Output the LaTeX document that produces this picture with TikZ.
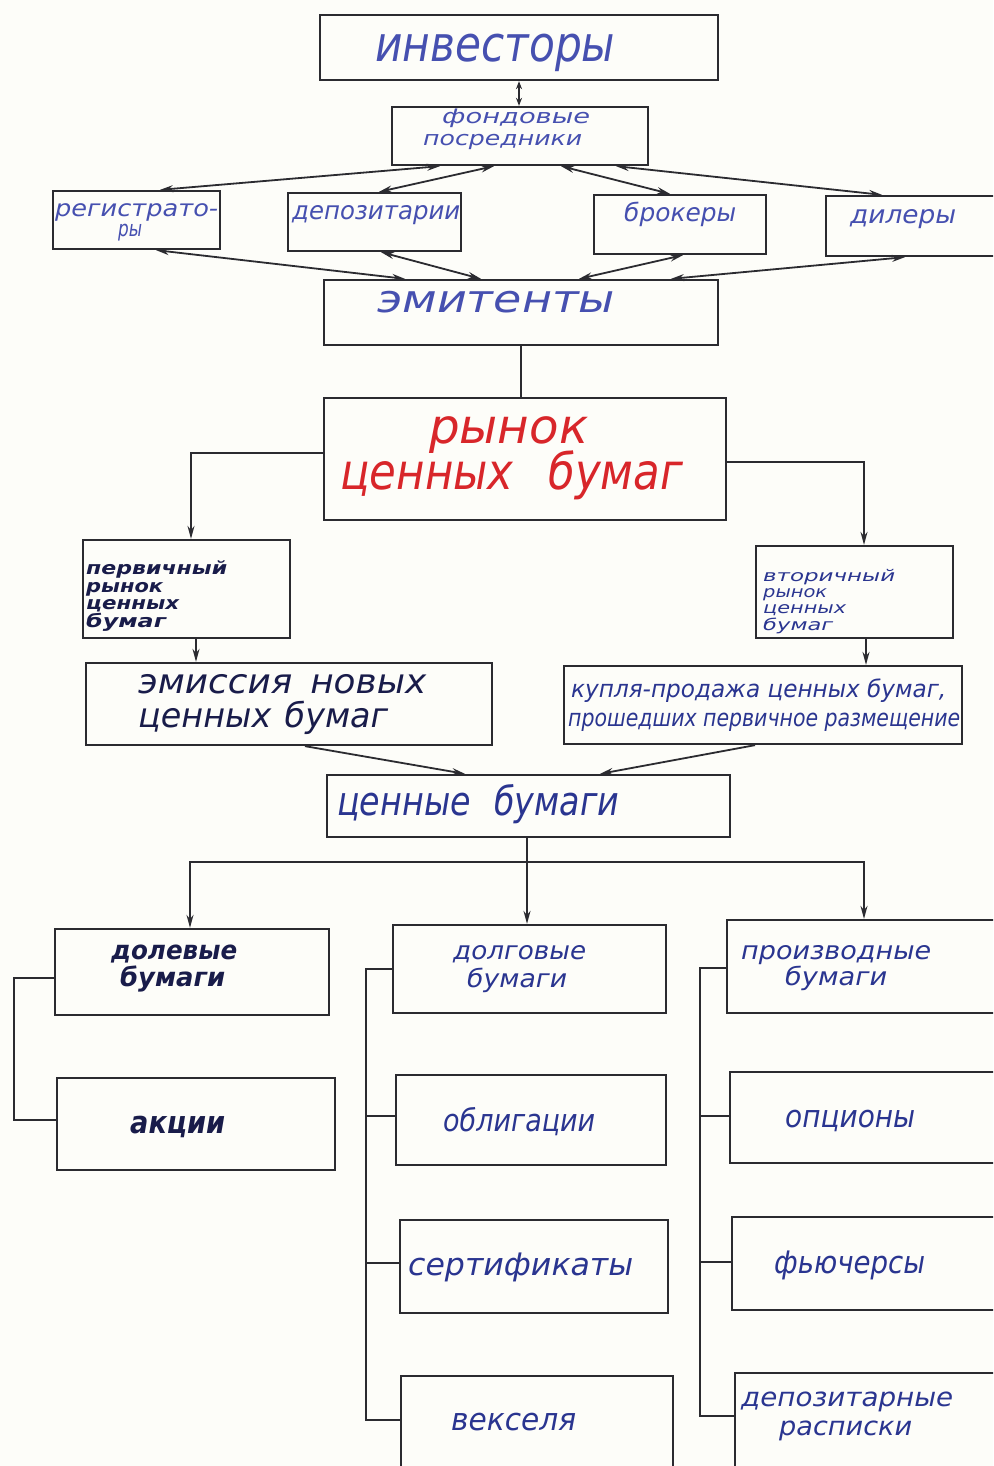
\documentclass[tikz,border=0pt]{standalone}
\usepackage{fontspec}
\setmainfont{DejaVu Sans}
\usetikzlibrary{arrows.meta}

\definecolor{inkblue}{HTML}{4650B0}
\definecolor{inkdeep}{HTML}{2A3590}
\definecolor{inknavy}{HTML}{191C4A}
\definecolor{inkred}{HTML}{D8262A}
\definecolor{linegray}{HTML}{2B2B30}
\definecolor{paper}{HTML}{FDFDF9}

% box from its left, top, right and bottom edges
\newcommand\bx[5]{\node[box, minimum width={#4-#2}, minimum height={#5-#3}] (#1) at ({(#2+#4)/2},{(#3+#5)/2}) {};}
% one line of lettering: [style]{name}{x,baseline}{font size}{width}{text}
\newcommand\lab[6][]{\node[lbl,#1] (#2) at (#3) {\fontsize{#4}{#4}\selectfont\resizebox{#5pt}{\height}{#6}};}

\begin{document}
\begin{tikzpicture}[x=1pt,y=-1pt,
  box/.style={draw=linegray, line width=2.3pt, inner sep=0pt, rectangle},
  lbl/.style={anchor=base west, inner sep=0pt, font=\itshape, text=inkblue},
  deep/.style={text=inkdeep},
  dark/.style={text=inknavy, font=\bfseries\itshape},
  redtxt/.style={text=inkred},
  conn/.style={draw=linegray, line width=1.8pt},
  arr/.style={conn, -{Stealth[length=13pt,width=7pt]}},
  darr/.style={conn, {Stealth[length=13pt,width=7pt]}-{Stealth[length=13pt,width=7pt]}},
  sdarr/.style={conn, {Stealth[length=8pt,width=6pt]}-{Stealth[length=8pt,width=6pt]}}]

\useasboundingbox (0,0) rectangle (993,1466);
\fill[paper] (0,0) rectangle (993,1466);
\clip (0,0) rectangle (993,1466);

% ---- participants ----
\bx{inv}{320}{15}{718}{80}
\bx{fond}{392}{107}{648}{165}
\bx{reg}{53}{191}{220}{249}
\bx{dep}{288}{193}{461}{251}
\bx{brok}{594}{195}{766}{254}
\bx{dil}{826}{196}{1003}{256}
\bx{em}{324}{280}{718}{345}

% ---- market ----
\bx{market}{324}{398}{726}{520}
\bx{prim}{83}{540}{290}{638}
\bx{sec}{756}{546}{953}{638}
\bx{emis}{86}{663}{492}{745}
\bx{trade}{564}{666}{962}{744}
\bx{secs}{327}{775}{730}{837}

% ---- kinds of securities ----
\bx{dol}{55}{929}{329}{1015}
\bx{akc}{57}{1078}{335}{1170}
\bx{debt}{393}{925}{666}{1013}
\bx{obl}{396}{1075}{666}{1165}
\bx{cert}{400}{1220}{668}{1313}
\bx{veks}{401}{1376}{673}{1475}
\bx{deriv}{727}{920}{1003}{1013}
\bx{opt}{730}{1072}{1003}{1163}
\bx{fut}{732}{1217}{1003}{1310}
\bx{depr}{735}{1373}{1003}{1475}

% ---- lettering ----
\lab{t-inv}{375,62}{49}{240}{инвесторы}
\lab{t-fond1}{442,124}{20}{148}{фондовые}
\lab{t-fond2}{423,146}{20}{159}{посредники}
\lab{t-reg1}{55,216}{23}{163}{регистрато-}
\lab{t-reg2}{118,236}{22}{24}{ры}
\lab{t-dep}{292,219}{25}{168}{депозитарии}
\lab{t-brok}{624,222}{25}{112}{брокеры}
\lab{t-dil}{850,223}{25}{106}{дилеры}
\lab{t-em}{377,312}{38}{238}{эмитенты}

\lab[redtxt]{t-mk1}{429,443}{48}{159}{рынок}
\lab[redtxt]{t-mk2}{340,489}{50}{343}{ценных\hspace{0.8em}бумаг}

\lab[dark]{t-pr1}{86,574}{18}{141}{первичный}
\lab[dark]{t-pr2}{86,592}{18}{77}{рынок}
\lab[dark]{t-pr3}{86,609}{18}{93}{ценных}
\lab[dark]{t-pr4}{86,627}{18}{80}{бумаг}
\lab[deep]{t-se1}{763,581}{16}{132}{вторичный}
\lab[deep]{t-se2}{763,597}{16}{64}{рынок}
\lab[deep]{t-se3}{763,613}{16}{83}{ценных}
\lab[deep]{t-se4}{763,630}{16}{70}{бумаг}
\lab[text=inknavy]{t-emi1}{138,693}{34}{288}{эмиссия\hspace{0.5em}новых}
\lab[text=inknavy]{t-emi2}{138,727}{34}{250}{ценных\hspace{0.4em}бумаг}
\lab[deep]{t-tr1}{571,697}{24}{375}{купля-продажа ценных бумаг,}
\lab[deep]{t-tr2}{568,726}{24}{392}{прошедших первичное размещение}
\lab[deep]{t-secs}{337,815}{40}{282}{ценные\hspace{0.7em}бумаги}

\lab[dark]{t-dol1}{111,959}{26}{126}{долевые}
\lab[dark]{t-dol2}{120,986}{26}{105}{бумаги}
\lab[dark]{t-akc}{130,1133}{31}{95}{акции}
\lab[deep]{t-debt1}{453,959}{25}{133}{долговые}
\lab[deep]{t-debt2}{467,987}{25}{100}{бумаги}
\lab[deep]{t-obl}{443,1131}{31}{152}{облигации}
\lab[deep]{t-cert}{408,1275}{31}{225}{сертификаты}
\lab[deep]{t-veks}{451,1430}{31}{125}{векселя}
\lab[deep]{t-der1}{741,959}{25}{190}{производные}
\lab[deep]{t-der2}{785,985}{25}{102}{бумаги}
\lab[deep]{t-opt}{785,1127}{31}{130}{опционы}
\lab[deep]{t-fut}{774,1273}{31}{151}{фьючерсы}
\lab[deep]{t-dpr1}{741,1406}{26}{212}{депозитарные}
\lab[deep]{t-dpr2}{779,1435}{26}{133}{расписки}

% ---- connectors: participants ----
\draw[sdarr] (519,0 |- inv.south) -- (519,0 |- fond.north);
\draw[darr] (440,0 |- fond.south) -- (160,0 |- reg.north);
\draw[darr] (494,0 |- fond.south) -- (379,0 |- dep.north);
\draw[darr] (561,0 |- fond.south) -- (670,0 |- brok.north);
\draw[darr] (616,0 |- fond.south) -- (882,0 |- dil.north);
\draw[darr] (405,0 |- em.north) -- (156,0 |- reg.south);
\draw[darr] (481,0 |- em.north) -- (381,0 |- dep.south);
\draw[darr] (579,0 |- em.north) -- (683,0 |- brok.south);
\draw[darr] (671,0 |- em.north) -- (905,0 |- dil.south);
\draw[conn] (521,0 |- em.south) -- (521,0 |- market.north);

% ---- connectors: market ----
\draw[arr] (market.west |- 0,453) -| (191,0 |- prim.north);
\draw[arr] (market.east |- 0,462) -| (864,0 |- sec.north);
\draw[arr] (196,0 |- prim.south) -- (196,0 |- emis.north);
\draw[arr] (866,0 |- sec.south) -- (866,0 |- trade.north);
\draw[arr] (305,0 |- emis.south) -- (465,0 |- secs.north);
\draw[arr] (755,0 |- trade.south) -- (600,0 |- secs.north);

% ---- connectors: kinds ----
\coordinate (hub) at (527,862);
\draw[conn] (527,0 |- secs.south) -- (hub);
\draw[arr] (hub) -- (527,0 |- debt.north);
\draw[arr] (hub) -| (190,0 |- dol.north);
\draw[arr] (hub) -| (864,0 |- deriv.north);

\draw[conn] (dol.west |- 0,978) -| (14,1120) -- (akc.west |- 0,1120);
\draw[conn] (debt.west |- 0,969) -| (366,1420) -- (veks.west |- 0,1420);
\draw[conn] (366,1116) -- (obl.west |- 0,1116);
\draw[conn] (366,1263) -- (cert.west |- 0,1263);
\draw[conn] (deriv.west |- 0,968) -| (700,1416) -- (depr.west |- 0,1416);
\draw[conn] (700,1116) -- (opt.west |- 0,1116);
\draw[conn] (700,1262) -- (fut.west |- 0,1262);
\end{tikzpicture}
\end{document}
